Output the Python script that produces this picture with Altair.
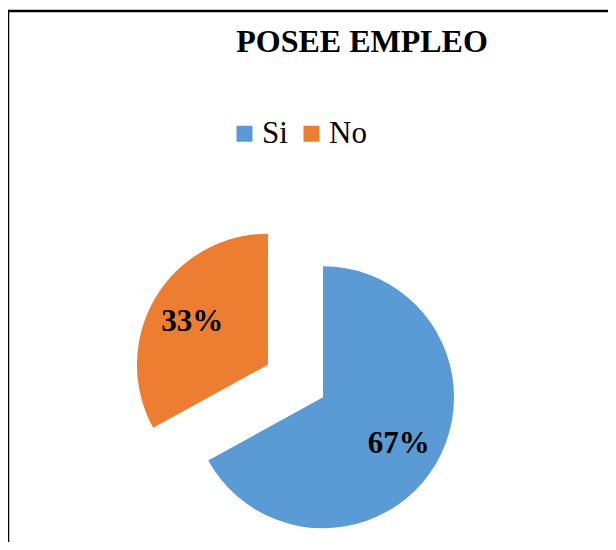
import altair as alt
import pandas as pd

# Data
categories = ["Si", "No"]
values = [67, 33]
colors = ["#5B9BD5", "#ED7D31"]

df = pd.DataFrame({"cat": categories, "value": values, "order": list(range(len(categories)))})

SERIF = "Liberation Serif, Times New Roman, serif"
W, H = 600, 534
CX, CY = 287.5, 373.0   # pie centre (before explosion)
R = 131                 # radius
D = 32                  # explosion distance
LR = 88                 # label radius from slice centre

base = alt.Chart(df).transform_joinaggregate(
    total="sum(value)"
).transform_window(
    cum="sum(value)", sort=[alt.SortField("order")]
).transform_calculate(
    t0="2*PI*(datum.cum-datum.value)/datum.total",
    t1="2*PI*datum.cum/datum.total",
).transform_calculate(
    mid="(datum.t0+datum.t1)/2"
).transform_calculate(
    px=f"{CX}+{D}*sin(datum.mid)",
    py=f"{CY}-{D}*cos(datum.mid)",
).transform_calculate(
    lx=f"datum.px+{LR}*sin(datum.mid)",
    ly=f"datum.py-{LR}*cos(datum.mid)",
    label="format(datum.value/datum.total,'.0%')",
)

arcs = base.mark_arc(outerRadius=R).encode(
    x=alt.X("px:Q", scale=None, axis=None),
    y=alt.Y("py:Q", scale=None, axis=None),
    theta=alt.Theta("t0:Q", scale=None),
    theta2="t1:Q",
    color=alt.Color(
        "cat:N",
        scale=alt.Scale(domain=categories, range=colors),
        legend=alt.Legend(
            orient="none", legendX=221, legendY=110, direction="horizontal",
            title=None, symbolType="square", symbolSize=256, symbolStrokeWidth=0,
            labelFont=SERIF, labelFontSize=31, labelColor="black",
            labelOffset=2, columnPadding=8, padding=0,
        ),
    ),
)

labels = base.mark_text(
    font=SERIF, fontWeight="bold", fontSize=31, color="black", dy=2
).encode(
    x=alt.X("lx:Q", scale=None, axis=None),
    y=alt.Y("ly:Q", scale=None, axis=None),
    text="label:N",
)

frame_df = pd.DataFrame({"a": [0]})
top_rule = alt.Chart(frame_df).mark_rule(color="black", strokeWidth=2.5).encode(
    x=alt.value(0), x2=alt.value(W), y=alt.value(3)
)
left_rule = alt.Chart(frame_df).mark_rule(color="black", strokeWidth=2.5).encode(
    x=alt.value(0), y=alt.value(3), y2=alt.value(H)
)

chart = alt.layer(arcs, labels, top_rule, left_rule).properties(
    width=W, height=H,
    autosize=alt.AutoSizeParams(type="none"),
    padding=0,
    title=alt.TitleParams(
        "POSEE EMPLEO", font=SERIF, fontSize=32, fontWeight="bold",
        color="black", anchor="middle", dx=54, offset=-51, baseline="top",
    ),
).configure_view(stroke=None).configure_title(font=SERIF)

chart.save("out.html", embed_options={"renderer": "svg", "actions": False})
